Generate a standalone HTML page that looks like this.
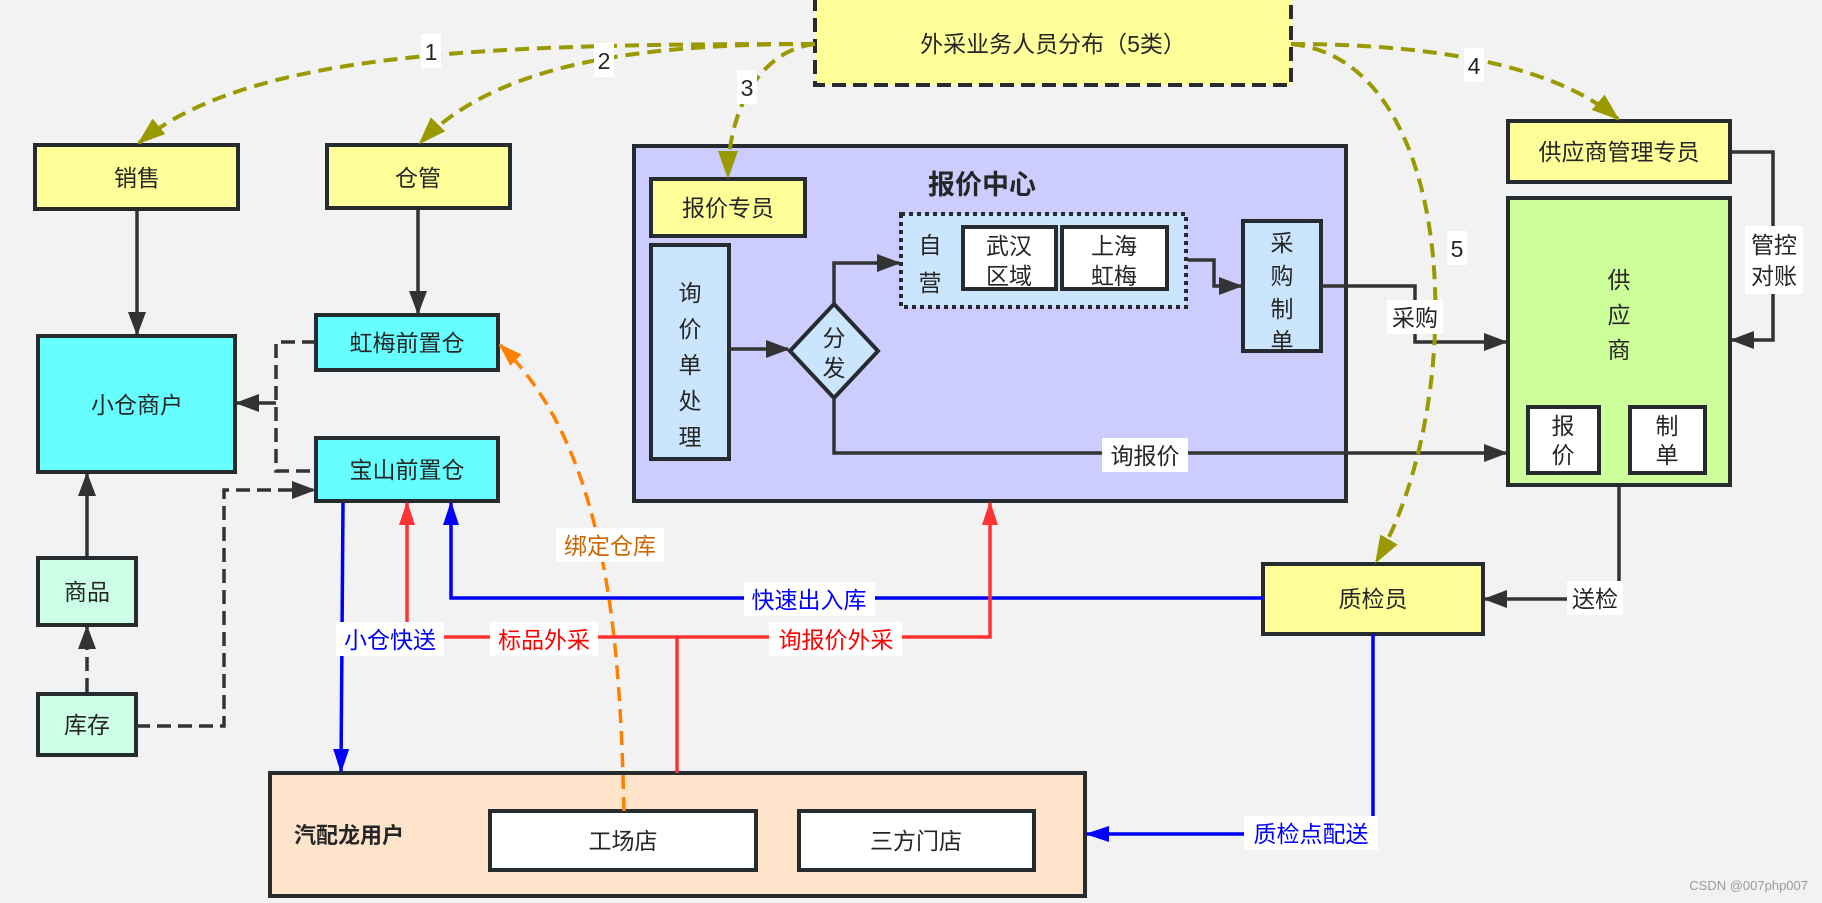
<!DOCTYPE html>
<html><head><meta charset="utf-8"><style>
body{margin:0;background:#f2f2f2;}
svg{display:block;font-family:"Liberation Sans","Noto Sans CJK SC",sans-serif;}
</style></head><body>
<svg width="1822" height="903" viewBox="0 0 1822 903" xmlns="http://www.w3.org/2000/svg">
<defs>
<marker id="akb" markerWidth="24" markerHeight="24" refX="22" refY="12" orient="auto" markerUnits="userSpaceOnUse" viewBox="0 0 24 24"><path d="M0,3 L24,12 L0,21 Z" fill="#333"/></marker>
<marker id="ab" markerWidth="24" markerHeight="24" refX="22" refY="12" orient="auto" markerUnits="userSpaceOnUse" viewBox="0 0 24 24"><path d="M0,4 L24,12 L0,20 Z" fill="#0000ff"/></marker>
<marker id="ar" markerWidth="24" markerHeight="24" refX="22" refY="12" orient="auto" markerUnits="userSpaceOnUse" viewBox="0 0 24 24"><path d="M0,4 L24,12 L0,20 Z" fill="#ff3333"/></marker>
<marker id="ao" markerWidth="24" markerHeight="24" refX="22" refY="12" orient="auto" markerUnits="userSpaceOnUse" viewBox="0 0 24 24"><path d="M0,4 L24,12 L0,20 Z" fill="#ff8000"/></marker>
<marker id="ay" markerWidth="28" markerHeight="28" refX="26" refY="14" orient="auto" markerUnits="userSpaceOnUse" viewBox="0 0 28 28"><path d="M0,4 L28,14 L0,24 Z" fill="#999900"/></marker>
</defs>
<rect width="1822" height="903" fill="#f2f2f2"/>

<g stroke="#262b30" stroke-width="4">
<rect x="634" y="146" width="712" height="355" fill="#ccccff"/>
<rect x="270" y="773" width="815" height="123" fill="#ffe4cc"/>
<rect x="1508" y="198" width="222" height="287" fill="#ccff99"/>
<rect x="815" y="-2" width="476" height="87" fill="#ffff99" stroke-dasharray="14,7"/>
<rect x="35" y="145" width="203" height="64" fill="#ffff99"/>
<rect x="327" y="145" width="183" height="63" fill="#ffff99"/>
<rect x="38" y="336" width="197" height="136" fill="#66ffff"/>
<rect x="316" y="315" width="182" height="55" fill="#66ffff"/>
<rect x="316" y="438" width="182" height="63" fill="#66ffff"/>
<rect x="38" y="558" width="98" height="67" fill="#ccffe6"/>
<rect x="38" y="694" width="98" height="61" fill="#ccffe6"/>
<rect x="651" y="179" width="154" height="57" fill="#ffff99"/>
<rect x="651" y="245" width="78" height="214" fill="#cce5ff"/>
<rect x="901" y="214" width="285" height="93" fill="#cce5ff" stroke-dasharray="4,4"/>
<rect x="963" y="227" width="93" height="62" fill="#fff"/>
<rect x="1062" y="227" width="105" height="62" fill="#fff"/>
<rect x="1243" y="221" width="78" height="130" fill="#cce5ff"/>
<polygon points="834,304 878,351 834,398 790,351" fill="#cce5ff"/>
<rect x="1508" y="121" width="222" height="61" fill="#ffff99"/>
<rect x="1528" y="407" width="71" height="66" fill="#fff"/>
<rect x="1630" y="407" width="75" height="66" fill="#fff"/>
<rect x="1263" y="564" width="220" height="70" fill="#ffff99"/>
<rect x="490" y="811" width="266" height="59" fill="#fff"/>
<rect x="799" y="811" width="235" height="59" fill="#fff"/>
</g>

<g fill="none" stroke="#333" stroke-width="3.5">
<line x1="137" y1="211" x2="137" y2="334" marker-end="url(#akb)"/>
<line x1="418" y1="210" x2="418" y2="313" marker-end="url(#akb)"/>
<line x1="87" y1="556" x2="87" y2="474" marker-end="url(#akb)"/>
<line x1="87" y1="692" x2="87" y2="627" stroke-dasharray="14,7" marker-end="url(#akb)"/>
<path d="M316,342 H276 V471 H316" stroke-dasharray="14,7"/>
<line x1="276" y1="403" x2="237" y2="403" marker-end="url(#akb)"/>
<path d="M136,726 H224 V490 H314" stroke-dasharray="14,7" marker-end="url(#akb)"/>
<line x1="729" y1="349" x2="788" y2="349" marker-end="url(#akb)"/>
<path d="M834,304 V263 H899" marker-end="url(#akb)"/>
<path d="M1188,260 H1214 V286 H1241" marker-end="url(#akb)"/>
<path d="M1321,286 H1415 V342 H1506" marker-end="url(#akb)"/>
<path d="M834,398 V453 H1506" marker-end="url(#akb)"/>
<path d="M1730,152 H1773 V340 H1732" marker-end="url(#akb)"/>
<path d="M1619,487 V599 H1485" marker-end="url(#akb)"/>
</g>

<g fill="none" stroke="#0000ff" stroke-width="3.5">
<line x1="343" y1="503" x2="341" y2="771" marker-end="url(#ab)"/>
<path d="M1263,598 H451 V503" marker-end="url(#ab)"/>
<path d="M1373,634 V834 H1087" marker-end="url(#ab)"/>
</g>
<g fill="none" stroke="#ff3333" stroke-width="3.5">
<line x1="407" y1="637" x2="407" y2="503" marker-end="url(#ar)"/>
<path d="M407,637 H990 V503" marker-end="url(#ar)"/>
<line x1="677" y1="637" x2="677" y2="773"/>
</g>
<path d="M624,811 C620,650 610,450 500,345" fill="none" stroke="#ff8000" stroke-width="3.5" stroke-dasharray="14,8" marker-end="url(#ao)"/>
<g fill="none" stroke="#999900" stroke-width="4" stroke-dasharray="14,8">
<path d="M815,44 C500,44 250,50 139,143" marker-end="url(#ay)"/>
<path d="M815,44 C650,44 500,60 420,143" marker-end="url(#ay)"/>
<path d="M815,44 C760,50 728,110 728,177" marker-end="url(#ay)"/>
<path d="M1291,44 C1450,44 1560,70 1618,119" marker-end="url(#ay)"/>
<path d="M1291,44 C1460,60 1470,400 1376,562" marker-end="url(#ay)"/>
</g>

<g fill="#fff">
<rect x="421" y="34" width="20" height="34"/>
<rect x="594" y="43" width="20" height="34"/>
<rect x="737" y="70" width="20" height="34"/>
<rect x="1464" y="48" width="20" height="34"/>
<rect x="1447" y="231" width="20" height="34"/>
<rect x="1387" y="300" width="56" height="34"/>
<rect x="1102" y="438" width="86" height="34"/>
<rect x="1745" y="226" width="58" height="68"/>
<rect x="1567" y="581" width="56" height="34"/>
<rect x="556" y="528" width="108" height="34"/>
<rect x="744" y="582" width="131" height="34"/>
<rect x="336" y="622" width="108" height="34"/>
<rect x="490" y="622" width="108" height="34"/>
<rect x="769" y="622" width="133" height="34"/>
<rect x="1244" y="816" width="134" height="34"/>
</g>
<g font-size="23" text-anchor="middle" fill="#262626">
<text x="431" y="60">1</text>
<text x="604" y="69">2</text>
<text x="747" y="96">3</text>
<text x="1474" y="74">4</text>
<text x="1457" y="257">5</text>
<text x="1415" y="326">采购</text>
<text x="1145" y="464">询报价</text>
<text x="1774" y="253">管控</text>
<text x="1774" y="284">对账</text>
<text x="1595" y="607">送检</text>
<text x="610" y="554" fill="#cc6600">绑定仓库</text>
<text x="809" y="608" fill="#0000ff">快速出入库</text>
<text x="390" y="648" fill="#0000ff">小仓快送</text>
<text x="544" y="648" fill="#ff0000">标品外采</text>
<text x="836" y="648" fill="#ff0000">询报价外采</text>
<text x="1311" y="842" fill="#0000ff">质检点配送</text>
</g>

<g font-size="23" text-anchor="middle" fill="#262626">
<text x="1053" y="52">外采业务人员分布（5类）</text>
<text x="137" y="186">销售</text>
<text x="418" y="186">仓管</text>
<text x="137" y="413">小仓商户</text>
<text x="407" y="351">虹梅前置仓</text>
<text x="407" y="478">宝山前置仓</text>
<text x="87" y="600">商品</text>
<text x="87" y="733">库存</text>
<text x="728" y="216">报价专员</text>
<text x="690" y="301">询</text><text x="690" y="337">价</text><text x="690" y="373">单</text><text x="690" y="409">处</text><text x="690" y="445">理</text>
<text x="834" y="346">分</text><text x="834" y="376">发</text>
<text x="930" y="253">自</text><text x="930" y="291">营</text>
<text x="1009" y="254">武汉</text><text x="1009" y="284">区域</text>
<text x="1114" y="254">上海</text><text x="1114" y="284">虹梅</text>
<text x="1282" y="251">采</text><text x="1282" y="284">购</text><text x="1282" y="317">制</text><text x="1282" y="349">单</text>
<text x="1619" y="160">供应商管理专员</text>
<text x="1619" y="288">供</text><text x="1619" y="323">应</text><text x="1619" y="358">商</text>
<text x="1563" y="434">报</text><text x="1563" y="463">价</text>
<text x="1667" y="434">制</text><text x="1667" y="463">单</text>
<text x="1373" y="607">质检员</text>
<text x="623" y="849">工场店</text>
<text x="916" y="849">三方门店</text>
</g>
<text x="982" y="194" font-size="27" font-weight="bold" text-anchor="middle" fill="#262626">报价中心</text>
<text x="349" y="843" font-size="22" font-weight="bold" text-anchor="middle" fill="#262626">汽配龙用户</text>
<text x="1808" y="890" font-size="13" text-anchor="end" fill="#999">CSDN @007php007</text>
</svg>
</body></html>
